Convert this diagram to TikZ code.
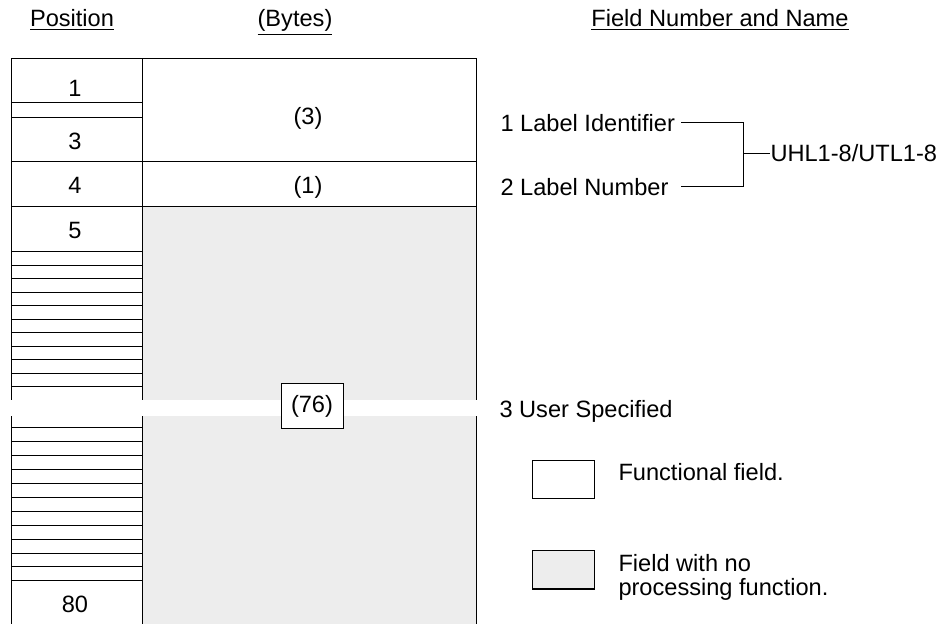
\documentclass[tikz,border=0pt]{standalone}
\usepackage{fontspec}
\setmainfont{Liberation Sans}
\usetikzlibrary{positioning}

\begin{document}
\begin{tikzpicture}[x=0.5pt,y=-0.5pt,line width=0.5pt,
 lbl/.style={inner sep=0pt,font=\fontsize{11.8}{12}\selectfont,text height=8.45pt,text depth=0pt},
 legendbox/.style={draw,minimum width=31pt,minimum height=19pt,inner sep=0pt},
 nofunc/.style={fill=black!7}]
 \useasboundingbox (0,0) rectangle (942,624);

 % column heads
 \node[lbl] (poshead) at (72,18.4) {\underline{Position}};
 \node[lbl] (byteshead) at (295,18.4) {\underline{(Bytes)}};
 \node[lbl] (namehead) at (720,18.4) {\underline{Field Number and Name}};

 % record layout
 \fill[nofunc] (142,207) rectangle (476,624);
 \draw (11,624) -- (11,59) -- (476,59) -- (476,624);
 \draw (142,59) -- (142,624);
 \draw (11,103) -- (142,103) (11,118) -- (142,118);
 \draw (11,162) -- (476,162) (11,207) -- (476,207);
 \foreach \i in {0,...,10}
  \draw (11,{252+13.5*\i}) -- (142,{252+13.5*\i});
 \foreach \i in {0,...,11}
  \draw (11,{428+13.9*\i}) -- (142,{428+13.9*\i});
 \fill[white] (5,400) rectangle (480,416);

 \node[lbl] (p1) at (75,88) {1};
 \node[lbl] (p3) at (75,141) {3};
 \node[lbl] (p4) at (75,185) {4};
 \node[lbl] (p5) at (75,230) {5};
 \node[lbl] (p80) at (75,604) {80};
 \node[lbl] (len3) at (308,116) {(3)};
 \node[lbl] (len1) at (308,185.5) {(1)};
 \node[lbl,draw,fill=white,text height=,text depth=,minimum width=31pt,minimum height=22.5pt] (len76) at (312,406.5) {(76)};

 % field names
 \node[lbl,anchor=west] (lblid) at (500,123) {1 Label Identifier};
 \node[lbl,anchor=west] (lblnum) at (500,187) {2 Label Number};
 \node[lbl,anchor=west] (uhl) at (770,153.3) {UHL1-8/UTL1-8};
 \node[lbl,anchor=west] (userspec) at (499,409) {3 User Specified};
 \coordinate (brktop) at (681,123);
 \coordinate (brkbot) at (681,187);
 \coordinate (brkjoin) at (743,153.3);
 \draw (brktop) -| (brkjoin) |- (brkbot);
 \draw (brkjoin) -- (uhl.west);

 % legend
 \node[legendbox] (keyfunc) at (563,480) {};
 \node[legendbox,nofunc] (keynofunc) at (563,570) {};
 \node[lbl,anchor=west] (keyfunctext) at (618,472) {Functional field.};
 \node[lbl,anchor=north west,align=left,text height=,text depth=] (keynofunctext) at (618,554) {Field with no\\processing function.};
\end{tikzpicture}
\end{document}
